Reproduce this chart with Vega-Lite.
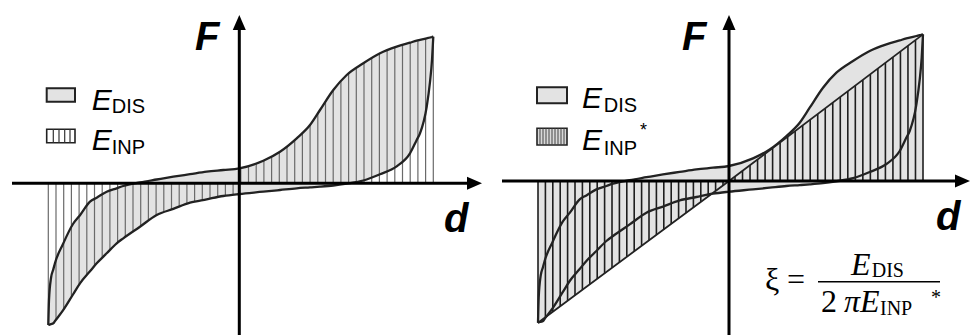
{
  "$schema": "https://vega.github.io/schema/vega-lite/v6.json",
  "padding": 0,
  "spacing": 0,
  "background": "#ffffff",
  "config": {"view": {"stroke": null}},
  "resolve": {"scale": {"x": "independent", "y": "independent"}},
  "datasets": {
    "loop": [
      {"d": -191, "U": -141.7, "L": -141.7},
      {"d": -190.3, "U": -116.7, "L": -141.5},
      {"d": -188.3, "U": -94.7, "L": -140.8},
      {"d": -186, "U": -86.1, "L": -140},
      {"d": -184.3, "U": -79.7, "L": -137.7},
      {"d": -176.3, "U": -60.7, "L": -127.1},
      {"d": -166.3, "U": -40.7, "L": -111.2},
      {"d": -159.3, "U": -31.9, "L": -100},
      {"d": -149.3, "U": -18.4, "L": -88},
      {"d": -142.6, "U": -14.4, "L": -80},
      {"d": -132.6, "U": -8.4, "L": -70},
      {"d": -122.6, "U": -5, "L": -60},
      {"d": -116, "U": -2.7, "L": -55},
      {"d": -99.3, "U": 0.9, "L": -43.4},
      {"d": -82.6, "U": 3.8, "L": -31.7},
      {"d": -66, "U": 6.6, "L": -25.6},
      {"d": -49.3, "U": 9.1, "L": -19.4},
      {"d": -32.6, "U": 11.6, "L": -16},
      {"d": -16, "U": 13.3, "L": -12.7},
      {"d": 0, "U": 15, "L": -10.7},
      {"d": 24, "U": 22.6, "L": -8.4},
      {"d": 40.7, "U": 31.6, "L": -6.7},
      {"d": 57.4, "U": 45, "L": -5},
      {"d": 70.7, "U": 58.3, "L": -4.1},
      {"d": 80.7, "U": 73.3, "L": -3.4},
      {"d": 94, "U": 93.3, "L": -2.2},
      {"d": 107.4, "U": 108.3, "L": -0.3},
      {"d": 124, "U": 120, "L": 2.8},
      {"d": 140.7, "U": 130, "L": 9},
      {"d": 157.4, "U": 136.6, "L": 17},
      {"d": 170.7, "U": 140.6, "L": 30},
      {"d": 177.4, "U": 142.6, "L": 43.4},
      {"d": 180.7, "U": 143.4, "L": 50},
      {"d": 187.4, "U": 145, "L": 76.6},
      {"d": 190.7, "U": 145.8, "L": 101.3},
      {"d": 192.7, "U": 146.3, "L": 123.3},
      {"d": 194, "U": 146.6, "L": 146.6}
    ],
    "hatchL": [
      {"d": -191, "F": -141.7}, {"d": -183.3, "F": -136.4}, {"d": -175.6, "F": -126.1},
      {"d": -167.9, "F": -113.8}, {"d": -160.2, "F": -101.4}, {"d": -152.5, "F": -91.9},
      {"d": -144.8, "F": -82.6}, {"d": -137.1, "F": -74.5}, {"d": -129.4, "F": -66.8},
      {"d": -121.7, "F": -59.3}, {"d": -114, "F": -53.6}, {"d": -106.3, "F": -48.3},
      {"d": -98.6, "F": -42.9}, {"d": -90.9, "F": -37.5}, {"d": -83.2, "F": -32.1},
      {"d": -75.5, "F": -29.1}, {"d": -67.8, "F": -26.2}, {"d": -60.1, "F": -23.4},
      {"d": -52.4, "F": -20.5}, {"d": -44.7, "F": -18.5}, {"d": -37, "F": -16.9},
      {"d": -29.3, "F": -15.4}, {"d": -21.6, "F": -13.8}, {"d": -13.9, "F": -12.4},
      {"d": -6.2, "F": -11.5}, {"d": 1.5, "F": 15.5}, {"d": 9.2, "F": 17.9},
      {"d": 16.9, "F": 20.4}, {"d": 24.6, "F": 22.9}, {"d": 32.3, "F": 27.1},
      {"d": 40, "F": 31.2}, {"d": 47.7, "F": 37.2}, {"d": 55.4, "F": 43.4},
      {"d": 63.1, "F": 50.7}, {"d": 70.8, "F": 58.5}, {"d": 78.5, "F": 70},
      {"d": 86.2, "F": 81.6}, {"d": 93.9, "F": 93.1}, {"d": 101.6, "F": 101.8},
      {"d": 109.3, "F": 109.6}, {"d": 117, "F": 115.1}, {"d": 124.7, "F": 120.4},
      {"d": 132.4, "F": 125}, {"d": 140.1, "F": 129.6}, {"d": 147.8, "F": 132.8},
      {"d": 155.5, "F": 135.8}, {"d": 163.2, "F": 138.3}, {"d": 170.9, "F": 140.7},
      {"d": 178.6, "F": 142.9}, {"d": 186.3, "F": 144.7}, {"d": 194, "F": 146.6}
    ],
    "hatchR": [
      {"d": -191, "F": -141.7}, {"d": -183.6, "F": -136.2}, {"d": -176.2, "F": -130.7},
      {"d": -168.8, "F": -125.2}, {"d": -161.4, "F": -119.7}, {"d": -154, "F": -114.3},
      {"d": -146.6, "F": -108.8}, {"d": -139.2, "F": -103.3}, {"d": -131.8, "F": -97.8},
      {"d": -124.4, "F": -92.3}, {"d": -117, "F": -86.8}, {"d": -109.6, "F": -81.3},
      {"d": -102.2, "F": -75.8}, {"d": -94.8, "F": -70.3}, {"d": -87.4, "F": -64.8},
      {"d": -80, "F": -59.4}, {"d": -72.6, "F": -53.9}, {"d": -65.2, "F": -48.4},
      {"d": -57.8, "F": -42.9}, {"d": -50.4, "F": -37.4}, {"d": -43, "F": -31.9},
      {"d": -35.6, "F": -26.4}, {"d": -28.2, "F": -20.9}, {"d": -20.8, "F": -15.4},
      {"d": -13.4, "F": -9.9}, {"d": -6, "F": -4.5},
      {"d": 6, "F": 4.5}, {"d": 13.52, "F": 10.2}, {"d": 21.04, "F": 15.9},
      {"d": 28.56, "F": 21.6}, {"d": 36.08, "F": 27.3}, {"d": 43.6, "F": 32.9},
      {"d": 51.12, "F": 38.6}, {"d": 58.64, "F": 44.3}, {"d": 66.16, "F": 50},
      {"d": 73.68, "F": 55.7}, {"d": 81.2, "F": 61.4}, {"d": 88.72, "F": 67},
      {"d": 96.24, "F": 72.7}, {"d": 103.76, "F": 78.4}, {"d": 111.28, "F": 84.1},
      {"d": 118.8, "F": 89.8}, {"d": 126.32, "F": 95.5}, {"d": 133.84, "F": 101.1},
      {"d": 141.36, "F": 106.8}, {"d": 148.88, "F": 112.5}, {"d": 156.4, "F": 118.2},
      {"d": 163.92, "F": 123.9}, {"d": 171.44, "F": 129.6}, {"d": 178.96, "F": 135.2},
      {"d": 186.48, "F": 140.9}, {"d": 194, "F": 146.6}
    ],
    "diag": [
      {"d": -191, "F": -141.7}, {"d": 0, "F": 0}, {"d": 194, "F": 146.6}
    ]
  },
  "hconcat": [
    {
      "width": 487,
      "height": 335,
      "encoding": {
        "x": {"field": "d", "type": "quantitative", "scale": {"domain": [-239.3, 247.7], "nice": false, "zero": false}, "axis": null},
        "y": {"field": "F", "type": "quantitative", "scale": {"domain": [-151.7, 183.3], "nice": false, "zero": false}, "axis": null}
      },
      "layer": [
        {
          "data": {"name": "loop"},
          "mark": {"type": "area", "color": "#e3e3e3", "interpolate": "monotone"},
          "encoding": {
            "y": {"field": "U", "type": "quantitative", "scale": {"domain": [-151.7, 183.3], "nice": false, "zero": false}, "axis": null},
            "y2": {"field": "L"}
          }
        },
        {
          "data": {"name": "hatchL"},
          "mark": {"type": "rule", "color": "#6a6a6a", "strokeWidth": 1.2},
          "encoding": {"y2": {"datum": 0}}
        },
        {
          "data": {"name": "loop"},
          "mark": {"type": "line", "color": "#222222", "strokeWidth": 2.3, "interpolate": "monotone"},
          "encoding": {"y": {"field": "U", "type": "quantitative", "scale": {"domain": [-151.7, 183.3], "nice": false, "zero": false}, "axis": null}}
        },
        {
          "data": {"name": "loop"},
          "mark": {"type": "line", "color": "#222222", "strokeWidth": 2.3, "interpolate": "monotone"},
          "encoding": {"y": {"field": "L", "type": "quantitative", "scale": {"domain": [-151.7, 183.3], "nice": false, "zero": false}, "axis": null}}
        },
        {
          "data": {"values": [
            {"d": -227.3, "d2": 236, "F": 0, "F2": 0},
            {"d": 0, "d2": 0, "F": -151.7, "F2": 160}
          ]},
          "mark": {"type": "rule", "color": "#000000", "strokeWidth": 3},
          "encoding": {"x2": {"field": "d2"}, "y2": {"field": "F2"}}
        },
        {
          "data": {"values": [{"d": 242.7, "F": 0}]},
          "mark": {"type": "point", "shape": "M0,0L-2,-0.87L-2,0.87Z", "filled": true, "color": "#000000", "size": 225, "opacity": 1}
        },
        {
          "data": {"values": [{"d": 0, "F": 168.3}]},
          "mark": {"type": "point", "shape": "M0,0L-0.87,2L0.87,2Z", "filled": true, "color": "#000000", "size": 225, "opacity": 1}
        },
        {
          "data": {"values": [{"d": -192.6, "d2": -164.3, "F": 95, "F2": 81.6}]},
          "mark": {"type": "rect", "fill": "#e3e3e3", "stroke": "#222222", "strokeWidth": 2},
          "encoding": {"x2": {"field": "d2"}, "y2": {"field": "F2"}}
        },
        {
          "data": {"values": [{"d": -192.6, "d2": -164.3, "F": 54, "F2": 40.6}]},
          "mark": {"type": "rect", "fill": "#ffffff", "stroke": "#222222", "strokeWidth": 1.6},
          "encoding": {"x2": {"field": "d2"}, "y2": {"field": "F2"}}
        },
        {
          "data": {"values": [
            {"d": -186, "F": 54, "F2": 40.6},
            {"d": -180.3, "F": 54, "F2": 40.6},
            {"d": -174.6, "F": 54, "F2": 40.6},
            {"d": -169.3, "F": 54, "F2": 40.6}
          ]},
          "mark": {"type": "rule", "color": "#333333", "strokeWidth": 1.2},
          "encoding": {"y2": {"field": "F2"}}
        },
        {
          "data": {"values": [
            {"d": -44.3, "F": 133.3, "t": "F"},
            {"d": 204.7, "F": -48.4, "t": "d"}
          ]},
          "mark": {"type": "text", "align": "left", "baseline": "alphabetic", "font": "Liberation Sans", "fontSize": 40, "fontWeight": "bold", "fontStyle": "italic", "color": "#000000"},
          "encoding": {"text": {"field": "t"}}
        },
        {
          "data": {"values": [
            {"d": -147.6, "F": 73.3, "t": "E"},
            {"d": -147.6, "F": 33.3, "t": "E"}
          ]},
          "mark": {"type": "text", "align": "left", "baseline": "alphabetic", "font": "Liberation Sans", "fontSize": 30, "fontStyle": "italic", "color": "#000000"},
          "encoding": {"text": {"field": "t"}}
        },
        {
          "data": {"values": [
            {"d": -127.6, "F": 70, "t": "DIS"},
            {"d": -127.6, "F": 29.3, "t": "INP"}
          ]},
          "mark": {"type": "text", "align": "left", "baseline": "alphabetic", "font": "Liberation Sans", "fontSize": 20, "color": "#000000"},
          "encoding": {"text": {"field": "t"}}
        }
      ]
    },
    {
      "width": 487,
      "height": 335,
      "encoding": {
        "x": {"field": "d", "type": "quantitative", "scale": {"domain": [-242, 245], "nice": false, "zero": false}, "axis": null},
        "y": {"field": "F", "type": "quantitative", "scale": {"domain": [-154, 181], "nice": false, "zero": false}, "axis": null}
      },
      "layer": [
        {
          "data": {"name": "loop"},
          "mark": {"type": "area", "color": "#e3e3e3", "interpolate": "monotone"},
          "encoding": {
            "y": {"field": "U", "type": "quantitative", "scale": {"domain": [-154, 181], "nice": false, "zero": false}, "axis": null},
            "y2": {"field": "L"}
          }
        },
        {
          "data": {"name": "diag"},
          "mark": {"type": "area", "color": "#e3e3e3"},
          "encoding": {"y2": {"datum": 0}}
        },
        {
          "data": {"name": "hatchR"},
          "mark": {"type": "rule", "color": "#1e1e1e", "strokeWidth": 1.6},
          "encoding": {"y2": {"datum": 0}}
        },
        {
          "data": {"name": "diag"},
          "mark": {"type": "line", "color": "#222222", "strokeWidth": 1.8},
          "encoding": {}
        },
        {
          "data": {"name": "loop"},
          "mark": {"type": "line", "color": "#222222", "strokeWidth": 2.3, "interpolate": "monotone"},
          "encoding": {"y": {"field": "U", "type": "quantitative", "scale": {"domain": [-154, 181], "nice": false, "zero": false}, "axis": null}}
        },
        {
          "data": {"name": "loop"},
          "mark": {"type": "line", "color": "#222222", "strokeWidth": 2.3, "interpolate": "monotone"},
          "encoding": {"y": {"field": "L", "type": "quantitative", "scale": {"domain": [-154, 181], "nice": false, "zero": false}, "axis": null}}
        },
        {
          "data": {"values": [
            {"d": -227, "d2": 234, "F": 0, "F2": 0},
            {"d": 0, "d2": 0, "F": -154, "F2": 158}
          ]},
          "mark": {"type": "rule", "color": "#000000", "strokeWidth": 3},
          "encoding": {"x2": {"field": "d2"}, "y2": {"field": "F2"}}
        },
        {
          "data": {"values": [{"d": 241, "F": 0}]},
          "mark": {"type": "point", "shape": "M0,0L-2,-0.87L-2,0.87Z", "filled": true, "color": "#000000", "size": 225, "opacity": 1}
        },
        {
          "data": {"values": [{"d": 0, "F": 166}]},
          "mark": {"type": "point", "shape": "M0,0L-0.87,2L0.87,2Z", "filled": true, "color": "#000000", "size": 225, "opacity": 1}
        },
        {
          "data": {"values": [{"d": -192, "d2": -162, "F": 93.7, "F2": 77.7}]},
          "mark": {"type": "rect", "fill": "#e3e3e3", "stroke": "#222222", "strokeWidth": 2},
          "encoding": {"x2": {"field": "d2"}, "y2": {"field": "F2"}}
        },
        {
          "data": {"values": [{"d": -192, "d2": -162, "F": 52.7, "F2": 36}]},
          "mark": {"type": "rect", "fill": "#d8d8d8", "stroke": "#222222", "strokeWidth": 1.6},
          "encoding": {"x2": {"field": "d2"}, "y2": {"field": "F2"}}
        },
        {
          "data": {"values": [
            {"d": -189, "F": 52.7, "F2": 36}, {"d": -186, "F": 52.7, "F2": 36},
            {"d": -183, "F": 52.7, "F2": 36}, {"d": -180, "F": 52.7, "F2": 36},
            {"d": -177, "F": 52.7, "F2": 36}, {"d": -174, "F": 52.7, "F2": 36},
            {"d": -171, "F": 52.7, "F2": 36}, {"d": -168, "F": 52.7, "F2": 36},
            {"d": -165, "F": 52.7, "F2": 36}
          ]},
          "mark": {"type": "rule", "color": "#444444", "strokeWidth": 1},
          "encoding": {"y2": {"field": "F2"}}
        },
        {
          "data": {"values": [
            {"d": -47, "F": 131, "t": "F"},
            {"d": 207, "F": -49, "t": "d"}
          ]},
          "mark": {"type": "text", "align": "left", "baseline": "alphabetic", "font": "Liberation Sans", "fontSize": 40, "fontWeight": "bold", "fontStyle": "italic", "color": "#000000"},
          "encoding": {"text": {"field": "t"}}
        },
        {
          "data": {"values": [
            {"d": -147, "F": 72.7, "t": "E"},
            {"d": -147, "F": 31, "t": "E"}
          ]},
          "mark": {"type": "text", "align": "left", "baseline": "alphabetic", "font": "Liberation Sans", "fontSize": 30, "fontStyle": "italic", "color": "#000000"},
          "encoding": {"text": {"field": "t"}}
        },
        {
          "data": {"values": [
            {"d": -125.3, "F": 69.3, "t": "DIS"},
            {"d": -125.3, "F": 26, "t": "INP"}
          ]},
          "mark": {"type": "text", "align": "left", "baseline": "alphabetic", "font": "Liberation Sans", "fontSize": 20, "color": "#000000"},
          "encoding": {"text": {"field": "t"}}
        },
        {
          "data": {"values": [{"d": -89, "F": 45, "t": "*"}]},
          "mark": {"type": "text", "align": "left", "baseline": "alphabetic", "font": "Liberation Sans", "fontSize": 18, "color": "#000000"},
          "encoding": {"text": {"field": "t"}}
        },
        {
          "data": {"values": [
            {"d": 36, "F": -109, "t": "ξ"},
            {"d": 58, "F": -109, "t": "="},
            {"d": 92, "F": -130.7, "t": "2"}
          ]},
          "mark": {"type": "text", "align": "left", "baseline": "alphabetic", "font": "Liberation Serif", "fontSize": 32, "color": "#000000"},
          "encoding": {"text": {"field": "t"}}
        },
        {
          "data": {"values": [
            {"d": 122, "F": -94, "t": "E"},
            {"d": 115, "F": -130.7, "t": "π"},
            {"d": 131, "F": -130.7, "t": "E"}
          ]},
          "mark": {"type": "text", "align": "left", "baseline": "alphabetic", "font": "Liberation Serif", "fontSize": 32, "fontStyle": "italic", "color": "#000000"},
          "encoding": {"text": {"field": "t"}}
        },
        {
          "data": {"values": [
            {"d": 142.7, "F": -95.7, "t": "DIS"},
            {"d": 151, "F": -134, "t": "INP"}
          ]},
          "mark": {"type": "text", "align": "left", "baseline": "alphabetic", "font": "Liberation Serif", "fontSize": 20, "color": "#000000"},
          "encoding": {"text": {"field": "t"}}
        },
        {
          "data": {"values": [{"d": 202, "F": -122.5, "t": "*"}]},
          "mark": {"type": "text", "align": "left", "baseline": "alphabetic", "font": "Liberation Serif", "fontSize": 20, "color": "#000000"},
          "encoding": {"text": {"field": "t"}}
        },
        {
          "data": {"values": [{"d": 89, "d2": 211, "F": -100.7}]},
          "mark": {"type": "rule", "color": "#000000", "strokeWidth": 1.5},
          "encoding": {"x2": {"field": "d2"}}
        }
      ]
    }
  ]
}
